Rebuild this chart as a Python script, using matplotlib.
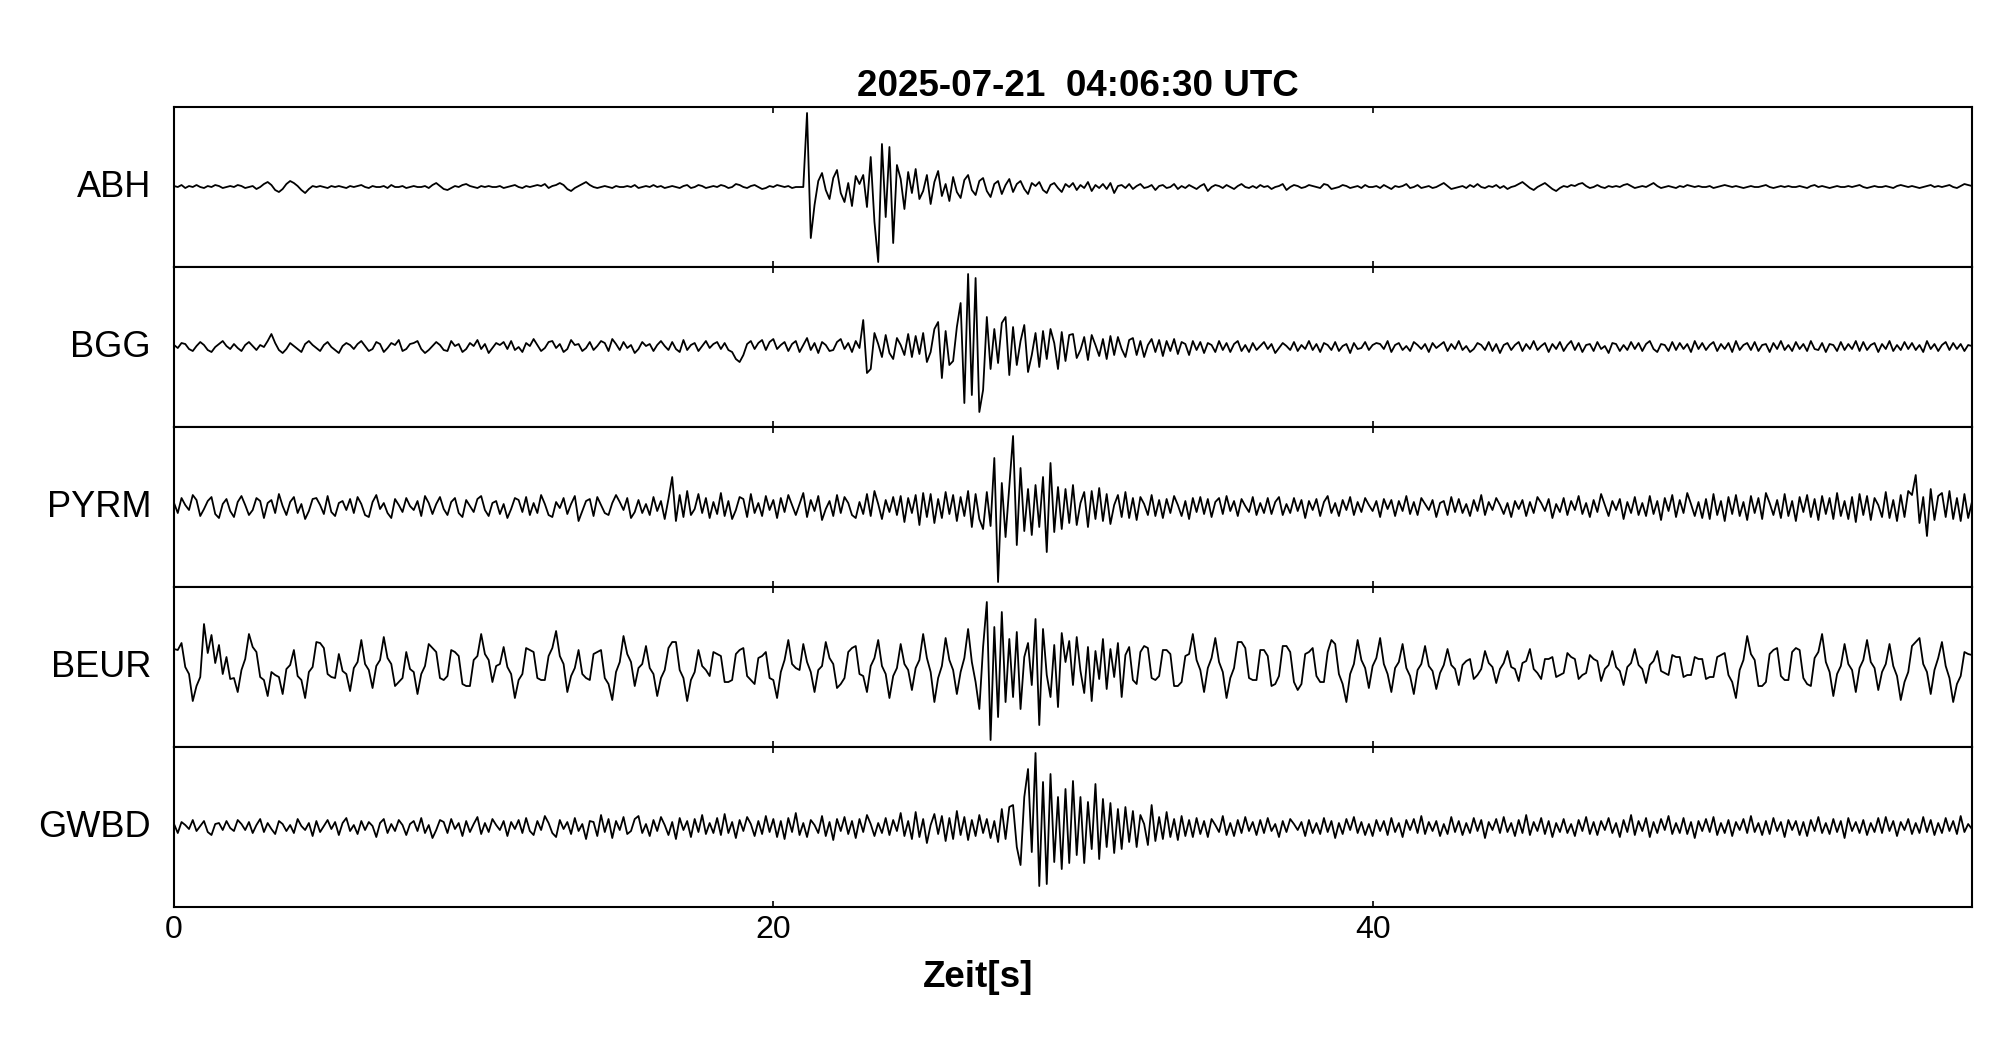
import numpy as np
import matplotlib
matplotlib.use("Agg")
import matplotlib.pyplot as plt

plt.rcParams['font.family'] = ['Liberation Sans', 'DejaVu Sans']

title = "2025-07-21  04:06:30 UTC"
stations = ["ABH", "BGG", "PYRM", "BEUR", "GWBD"]
xticks = [0, 20, 40]
dt = 0.125  # s, samples (8 per second)

# amplitudes in pixels of the original panel (half height = 80)
abh = [
    1, 0, 2, -1, 1, 0, 2, 0, -1, 1, 0, 2, 1, -1, 0, 1,
    0, 2, 1, -1, 0, 1, -2, 0, 3, 5, 2, -3, -5, -2, 3, 6,
    4, 1, -3, -6, -2, 1, 0, 1, 0, -1, 1, 0, 1, 0, -1, 1,
    0, 1, 2, 0, -1, 1, 0, 0, 1, -1, 2, 0, 0, 1, -1, 0,
    1, 0, 0, 1, -1, 2, 4, 1, -2, -3, -1, 1, 0, 2, 3, 1,
    0, -1, 1, 0, 1, 0, 0, 1, -1, 0, 1, 2, 0, -1, 1, 0,
    1, 2, 1, 3, -1, 1, 2, 4, 2, -2, -4, -1, 1, 3, 5, 2,
    0, -1, 0, 1, 0, -1, 1, 0, 0, 1, 0, 2, -1, 0, 1, 0,
    2, 0, 1, -1, 0, 1, 0, -1, 1, 2, -1, 0, 2, 1, -1, 0,
    1, 0, 2, 1, -1, 0, 3, 2, 0, -1, 1, 2, 0, -2, -1, 1,
    0, 2, 1, 0, 1, -1, 0, 0, 0, 74, -51, -18, 6, 14, -3, -12,
    9, 17, -6, -15, 4, -19, 11, 3, 12, -20, 30, -35, -75, 43, -30, 40,
    -56, 22, 8, -22, 15, -6, 18, -12, -4, 12, -17, 5, 16, -9, 3, -14,
    10, -5, -11, 7, 12, -3, -8, 6, 9, -4, -10, 3, 6, -7, 2, 8,
    -5, 3, 6, -2, -7, 4, 1, 5, -3, -6, 2, 4, -1, -5, 3, 0,
    4, -3, 2, -1, 5, -4, 2, -1, 3, -2, 4, -6, 1, 2, -1, 3,
    -2, 1, 3, -1, 0, 2, -3, 1, 2, -1, 0, 3, -2, 1, -1, 2,
    0, -2, 1, 3, -4, 0, 2, 1, -1, 2, 0, -2, 1, 3, 0, -1,
    1, -1, 2, 0, 1, -2, 0, 1, 3, -3, 0, 2, 1, -1, 0, 2,
    1, 0, -1, 3, 2, -2, -1, 0, 2, 1, -1, 0, 1, -1, 2, 0,
    0, 1, -1, 2, 0, -2, 1, 0, 1, 3, -1, 0, 2, -1, 0, 1,
    -1, 0, 2, 4, 1, -2, -1, 0, 1, -1, 2, 0, 3, 0, -1, 1,
    0, 2, -1, 1, -2, 0, 1, 3, 5, 2, -1, -3, 0, 2, 4, 1,
    -2, -4, -1, 1, 0, 2, 1, 3, 4, 1, -1, 0, 2, 0, -1, 1,
    0, 1, 0, 2, 3, 1, -1, 0, 1, 0, 2, 4, 1, -1, 0, 1,
    0, -1, 1, 0, 2, 1, 0, 1, 0, 0, 1, -1, 0, 1, 2, 1,
    0, 1, 0, -1, 0, 1, 0, 0, 1, 2, 0, -1, 0, 1, 0, 1,
    0, 0, 1, 0, -1, 1, 2, 0, 1, 0, -1, 0, 1, 0, 0, 1,
    0, 1, 2, 0, -1, 0, 1, 0, 0, 1, 0, -1, 1, 2, 1, 0,
    1, 0, -1, 0, 1, 2, 0, 1, 0, 1, 2, 0, -1, 1, 3, 2,
    1,
]

bgg = [
    2, -1, 4, 3, -2, -4, 1, 5, 2, -3, -5, 0, 3, 6, 1, -2,
    3, -1, -4, 2, 5, 1, -3, 2, 0, 6, 13, 4, -3, -6, -2, 4,
    1, -2, -5, 3, 6, 2, -1, -4, 2, 5, 0, -3, -6, 1, 4, 2,
    -2, 3, 6, 1, -4, -2, 5, 3, -5, -1, 4, 2, 7, -4, -2, 3,
    4, 6, -2, -6, -3, 1, 5, 2, -3, -4, 6, 1, 3, -5, -2, 4,
    1, 7, -2, 3, -6, -1, 4, 2, 5, -2, 6, -3, 0, -5, 4, 1,
    8, 2, -4, -1, 5, 6, -1, 3, -5, -2, 7, 2, 3, -4, -1, 5,
    -3, 1, 6, 4, -4, 8, 3, -3, 5, -1, 2, -6, -2, 5, 1, 3,
    -4, 2, 6, 1, -3, 5, -2, -5, 7, -3, 2, 4, -4, 1, 6, -1,
    3, 5, -2, 4, -3, -5, -12, -15, -8, 3, 6, -2, 4, 7, -3, 5,
    8, -2, 2, 5, -4, 3, 6, -5, 2, 9, -3, 4, -6, 5, 2, -4,
    -3, 5, 8, -2, 4, -5, 6, -1, 27, -26, -22, 14, 3, -10, 12, -6,
    -12, 9, 2, -8, 13, -10, 11, -7, 14, -15, -5, 18, 25, -31, 16, -18,
    -14, 20, 44, -56, 73, -48, 69, -65, -43, 30, -22, 18, -16, 24, 30, -28,
    20, -18, 6, 22, -25, -8, 14, -20, 16, -12, 18, 4, -22, 15, -14, 12,
    13, -11, -3, 10, -13, 12, 2, -9, 8, -12, 11, -8, 10, -2, -10, 7,
    9, -8, 6, -10, 2, 8, -5, 7, -9, 6, -4, 8, -7, 5, 3, -8,
    6, -3, 5, -6, 4, 2, -5, 6, -3, 4, -5, 3, 6, -4, 2, -5,
    4, -3, 1, 5, -2, 3, -6, -1, 4, 1, -3, 5, -4, 2, -2, 6,
    -3, 3, -5, 4, 2, -3, 5, -4, 1, 3, -6, 4, -2, -1, 5, -3,
    2, 4, 3, -2, 6, -5, 2, 4, -3, 1, -4, 5, 2, -2, 3, -5,
    4, -1, 2, 5, -4, 3, -2, 6, -3, 1, -5, -2, 4, 2, -3, 5,
    -4, 3, -6, 2, 4, -3, 2, 5, -4, 3, -2, 6, -3, 1, 4, -5,
    3, -2, 5, -4, 2, 6, -3, 4, -5, 2, 3, -4, 5, -2, 1, -6,
    4, 3, -4, 2, -3, 5, -2, 4, -4, 3, 6, -2, -5, 3, 2, -4,
    5, -3, 4, -2, 3, -5, 6, -2, 4, -3, 2, 5, -4, 3, -2, 4,
    -5, 6, -3, 2, 4, -3, 5, -4, 2, 3, -5, 4, -2, 6, -3, 2,
    -4, 5, -2, 3, -4, 6, -2, -3, 4, -5, 3, 2, -4, 5, -3, 3,
    -2, 6, -4, 5, -3, 2, 4, -5, 3, -2, 6, -4, 2, -3, 5, -2,
    4, -3, 2, -5, 6, -2, 3, -4, 2, 5, -3, 4, -2, 3, -4, 2,
    1,
]

pyrm = [
    4, -6, 9, 2, -3, 12, 7, -9, -2, 6, 10, -7, -11, 3, 8, -4,
    -10, 5, 11, 2, -8, -3, 9, 6, -11, 4, 7, -6, 13, 1, -8, 5,
    10, -6, 3, -12, -4, 8, 9, 2, -7, 11, -5, -9, 4, 6, -3, 8,
    -6, 10, 3, -8, -10, 5, 12, -2, 4, -6, -11, 8, 2, -5, 9, 1,
    -3, 6, -9, 11, 4, -7, 3, 10, -2, -8, 5, 9, -6, -10, 7, 1,
    -5, 8, 11, -3, -9, 4, 6, -7, 3, -11, -2, 9, 7, -5, 10, -8,
    4, -6, 12, 3, -8, -10, 5, -1, 9, -7, 3, 11, -14, -4, 6, 8,
    -9, 10, 2, -6, -8, 4, 12, 5, -3, 9, -11, -5, 7, -6, 3, -8,
    10, -4, 6, -12, 8, 30, -14, 12, -10, 16, -8, -2, 13, -6, 9, -11,
    5, -7, 14, -9, 6, -12, -3, 10, 8, -10, 13, -6, 4, -9, 11, -3,
    7, -11, 9, -5, 12, 2, -8, 3, 14, -10, 7, -4, 11, -13, -2, 6,
    -9, 12, -6, 10, 4, -8, -11, 5, -7, 13, -9, 16, 3, -12, 7, -5,
    10, -8, 11, -15, 9, -6, 12, -18, 14, -10, 13, -16, 8, -11, 15, -7,
    12, -14, 10, -9, 16, -20, 13, -12, -22, 15, -19, 49, -75, 24, -30, 20,
    71, -38, 39, -24, 18, -28, 22, -20, 30, -45, 44, -25, 20, -22, 18, -16,
    22, -18, 4, 15, -20, 16, -12, 19, -14, 13, -17, 2, 12, -10, 15, -11,
    9, -13, 10, 3, -8, 12, -9, 7, -11, 8, -6, 11, 2, -9, 6, -12,
    9, -5, 10, -7, 8, -10, 5, 9, -7, 11, -4, 6, -9, 8, 1, -5,
    10, -8, 4, -6, 9, -7, 5, 10, -8, 3, -6, 9, -4, 7, -11, 6,
    -3, 8, -9, 5, 11, -6, 4, -9, 7, -3, 10, -8, 5, -5, 9, 2,
    -4, 6, -10, 8, -2, 7, -9, 6, -4, 11, -7, 5, -8, 9, 3, -3,
    7, -10, 4, 6, -8, 10, -5, 8, -6, 3, -9, 7, -4, 12, -8, 5,
    -3, 9, 2, -7, 4, -10, 6, -2, 7, -9, 5, -6, 10, 4, -4, 8,
    -11, 3, -5, 9, -8, 6, -3, 11, -7, 4, -10, 7, -5, 13, 2, -9,
    6, -3, 8, -12, 5, -6, 10, -8, 4, -9, 11, -7, 6, -13, 9, -4,
    12, -10, 7, -6, 14, 3, -9, 5, -11, 8, -12, 13, -8, 6, -14, 10,
    -7, 12, -9, 5, -13, 11, -6, 9, -12, 14, 4, -8, 7, -11, 13, -9,
    6, -14, 10, -5, 12, -10, 8, -13, 11, -7, 9, -12, 14, -9, 6, -12,
    10, -15, 13, -8, 11, -13, 9, 2, -10, 15, -11, 7, -14, 12, -10, 16,
    12, 32, -16, 10, -29, 18, -13, 11, 14, -10, 16, -12, 9, -14, 13, -11,
    5,
]

beur = [
    18, 17, 24, 0, -7, -34, -19, -10, 43, 14, 32, 4, 22, -7, 10, -12,
    -11, -25, -3, 8, 33, 20, 15, -10, -13, -29, -5, -8, -10, -27, -2, 2,
    17, -9, -13, -31, -5, 0, 25, 24, 19, -7, -10, -11, 13, -4, -7, -24,
    -1, 5, 27, 3, -3, -21, 1, 7, 30, 9, 3, -19, -15, -11, 15, -2,
    -5, -27, -7, 1, 23, 19, 15, -11, -13, -9, 17, 15, 11, -17, -19, -19,
    7, 11, 33, 13, 7, -15, 1, 3, 20, 0, -7, -31, -13, -7, 19, 17,
    15, -11, -13, -13, 11, 19, 36, 11, 3, -25, -9, -1, 17, -7, -11, -13,
    13, 15, 17, -11, -17, -33, -5, 5, 31, 13, 5, -19, -1, 3, 21, -1,
    -7, -29, -11, -3, 19, 25, 25, -3, -11, -34, -13, -5, 17, 1, -3, -9,
    15, 13, 11, -15, -15, -13, 13, 17, 19, -9, -13, -17, 9, 11, 15, -11,
    -13, -31, -5, 7, 27, 3, -1, -3, 23, 5, -5, -25, -3, 1, 25, 9,
    3, -21, -17, -11, 15, 19, 21, -7, -9, -25, 1, 9, 27, 1, -7, -31,
    -9, -1, 23, 3, -3, -23, -1, 7, 33, 9, -5, -35, -11, 1, 29, 7,
    -3, -27, -5, 9, 38, 5, -15, -42, 20, 65, -73, 40, -50, 55, -35, 28,
    -30, 35, -42, 10, 24, -18, 48, -58, 38, -8, -30, 22, -40, 34, 5, 26,
    -18, 30, -4, -26, 20, -34, 16, -12, 28, -22, 18, -10, 24, -30, 12, 20,
    -13, -17, 15, 21, 19, -11, -13, -9, 17, 17, 13, -19, -19, -15, 11, 13,
    33, 7, -3, -25, -1, 9, 29, 5, -5, -31, -11, -1, 25, 25, 19, -11,
    -13, -13, 17, 17, 11, -19, -17, -9, 21, 21, 15, -15, -23, -17, 13, 15,
    19, -9, -15, -15, 15, 27, 23, -7, -17, -35, -7, 3, 27, 7, -1, -21,
    1, 9, 29, 3, -7, -25, -1, 5, 23, -1, -9, -27, -3, 3, 21, 1,
    -4, -22, -6, 2, 18, 2, -2, -18, 2, 6, 8, -12, -8, -2, 16, 4,
    0, -16, -2, 4, 16, 0, -2, -14, 4, 6, 18, -2, -6, -12, 8, 8,
    10, -10, -8, -6, 14, 10, 8, -12, -8, -6, 12, 8, 6, -14, -2, 2,
    16, 0, -4, -18, 0, 4, 18, 2, -2, -16, 2, 6, 16, -4, -6, -8,
    12, 10, 10, -10, -8, -8, 10, 8, 8, -12, -10, -10, 10, 12, 14, -8,
    -15, -31, -3, 7, 31, 13, 7, -19, -19, -15, 13, 17, 19, -9, -13, -13,
    15, 19, 17, -11, -17, -19, 9, 15, 33, 5, -5, -29, -7, 1, 23, 3,
    -3, -25, -1, 7, 27, 5, -1, -23, -5, 3, 23, 1, -9, -33, -15, -5,
    21, 25, 29, 3, -5, -27, -3, 9, 25, 1, -11, -35, -17, -9, 15, 13,
    12,
]

gwbd = [
    3, -6, 5, 2, -2, 7, -4, 1, 6, -5, -8, 3, 4, -3, 6, -1,
    -4, 7, 3, -3, 5, -6, 2, 8, -5, 4, -2, -7, 6, 3, -4, 2,
    -6, 8, 1, -3, 4, -9, 6, -5, 1, 7, -2, 5, -8, 4, 9, -4,
    2, -7, 6, -3, 5, 1, -10, 4, 8, -6, 3, -4, 7, 2, -8, 3,
    6, -4, 9, -6, 2, -11, -3, 7, 5, -6, 8, -2, 4, -9, 6, -5,
    3, 10, -7, 4, -5, 8, 2, -3, 6, -9, 5, -2, 7, -6, 9, -4,
    -8, 6, -3, 11, 4, -6, -10, 7, -2, 5, -7, 9, -4, 3, -12, 6,
    5, -9, 12, -5, 8, -11, 6, -3, 10, -7, -4, 8, 11, -6, 3, -9,
    7, -4, 10, 2, -8, 5, -12, 9, -3, 6, -10, 8, -5, 12, -7, 4,
    -6, 9, -8, 13, -6, 5, -11, 7, -4, 10, 3, -9, 6, -7, 11, -5,
    8, -10, 6, -12, 9, -5, 14, -8, 4, -10, 7, 2, -6, 11, -9, 5,
    -13, 8, -4, 10, -7, 6, -11, 8, -5, 12, 3, -9, 4, -6, 9, -8,
    7, -4, 14, -9, 6, -12, 15, -10, 8, -16, 2, 13, -7, 11, -14, 9,
    -12, 16, -8, 10, -13, 7, -9, 12, -6, 8, -11, 6, -15, 18, -12, 20,
    22, -20, -38, 30, 58, -25, 74, -59, 45, -57, 53, -35, 30, -42, 38, -36,
    46, -28, 30, -36, 25, -22, 43, -32, 28, -20, 24, -26, 18, -22, 20, -15,
    16, -20, 12, 3, -18, 22, -14, 10, -12, 15, -10, 8, -13, 11, -9, 7,
    -10, 9, -7, 6, -10, 8, 2, -5, 11, -8, 4, -9, 7, -6, 10, -4,
    5, -8, 7, -6, 9, -4, 3, -10, 6, -5, 8, 3, -3, 5, -9, 7,
    -6, 4, -7, 9, -5, 6, -11, 4, -7, 8, -3, 10, -6, 5, -8, 3,
    -9, 7, -4, 6, -8, 9, -5, 4, -10, 7, -3, 8, -6, 11, -7, 5,
    -4, 6, -9, 3, -7, 10, -5, 6, -8, 4, -6, 9, -4, 7, -11, 5,
    -3, 8, -6, 10, -5, 4, -9, 7, -6, 12, -8, 5, -4, 9, -7, 6,
    -10, 4, -5, 8, -6, 3, -9, 7, -4, 10, -7, 5, -8, 6, -3, 9,
    -6, 4, -10, 7, -5, 12, -8, 6, -4, 9, -10, 5, -6, 8, -3, 11,
    -7, 4, -6, 9, -7, 5, -11, 6, -4, 8, -5, 10, -8, 4, -6, 7,
    -9, 5, -3, 8, -6, 11, -5, 4, -8, 6, -7, 9, -4, 5, -10, 7,
    -3, 6, -8, 5, -9, 7, -4, 10, -6, 4, -7, 8, -5, 6, -11, 9,
    -4, 5, -6, 7, -8, 4, -5, 9, -6, 10, -4, 6, -9, 5, -3, 8,
    -7, 4, -6, 10, -5, 7, -8, 4, -6, 9, -4, 6, -7, 11, -5, 3,
    -2,
]

traces = [abh, bgg, pyrm, beur, gwbd]

fig = plt.figure(figsize=(20.05, 10.41), dpi=100)
axes = fig.subplots(len(stations), 1, sharex=True)
fig.subplots_adjust(left=0.0868, right=0.9835, top=0.8972, bottom=0.1287, hspace=0)

for ax, name, vals in zip(axes, stations, traces):
    t = np.arange(len(vals)) * dt
    ax.plot(t, vals, color='black', lw=1.3)
    ax.set_xlim(0, 60)
    ax.set_ylim(-80, 80)
    ax.set_yticks([])
    ax.set_xticks(xticks)
    ax.tick_params(axis='x', direction='in', top=True, length=4, width=1.2,
                   labelsize=23, pad=6)
    for s in ax.spines.values():
        s.set_linewidth(1.5)
    ax.text(-0.0128, 0.5, name, transform=ax.transAxes, ha='right',
            va='center', fontsize=26)

fig.text(0.503 * 0.8967 + 0.0868, 1 - 95.5 / 1041, title, ha='center',
         va='baseline', fontsize=26.5, fontweight='bold')
fig.text(978 / 2005, 1 - 987 / 1041, "Zeit[s]", ha='center', va='baseline',
         fontsize=26.5, fontweight='bold')

fig.savefig("out.png", dpi=100)
